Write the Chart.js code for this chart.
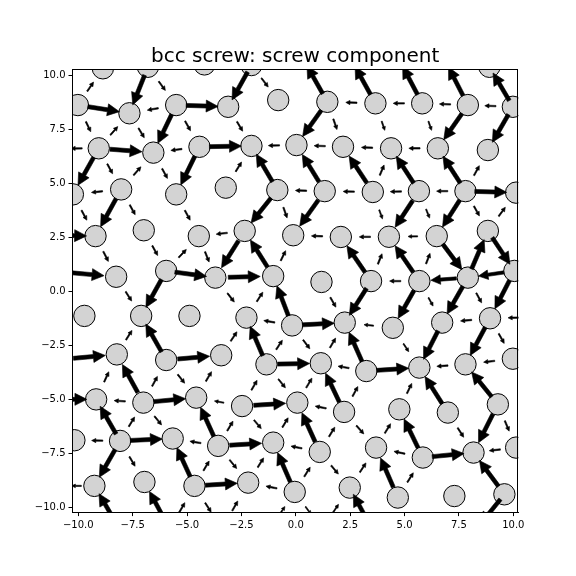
<!DOCTYPE html>
<html><head><meta charset="utf-8">
<script src="https://cdn.jsdelivr.net/npm/chart.js@4/dist/chart.umd.min.js"></script>
<style>html,body{margin:0;padding:0;background:#fff}</style>
</head><body>
<div style="width:576px;height:576px"><canvas id="c" width="576" height="576"></canvas></div>
<script>
// ---- data ----
const chartTitle = 'bcc screw: screw component';
const tickValues = [-10, -7.5, -5, -2.5, 0, 2.5, 5, 7.5, 10];
const xLimits = [-10.29, 10.234];
const yLimits = [-10.236, 10.273];
// lattice column of the first atom of each row (half-spacing units)
const rowK0 = [1, 0, -1, 0, -1, 0, 1, 0, -1, 0, -1, 0];
const atomX = [
  [-8.87, -6.80, -4.20, -2.04, 0.30, 2.50, 4.70, 6.80, 8.90],
  [-10.02, -7.65, -5.50, -3.11, -0.81, 1.45, 3.66, 5.81, 7.91, 9.98],
  [-11.1, -9.06, -6.55, -4.43, -2.04, 0.03, 2.17, 4.38, 6.53, 8.83, 11.0],
  [-10.25, -8.03, -5.50, -3.22, -0.85, 1.33, 3.54, 5.66, 7.80, 10.13],
  [-11.5, -9.21, -6.99, -4.46, -2.35, -0.12, 2.07, 4.28, 6.48, 8.83, 11.0],
  [-10.84, -8.26, -5.96, -3.70, -1.04, 1.18, 3.46, 5.68, 7.91, 10.05],
  [-9.72, -7.11, -4.89, -2.27, -0.17, 2.25, 4.46, 6.73, 8.93, 11.1],
  [-10.75, -8.23, -5.96, -3.43, -1.35, 1.15, 3.24, 5.68, 7.80, 9.98],
  [-11.5, -9.18, -7.01, -4.58, -2.47, 0.07, 2.22, 4.76, 6.99, 9.29],
  [-10.18, -8.08, -5.66, -3.57, -1.04, 1.10, 3.69, 5.84, 8.17, 10.13],
  [-10.9, -9.26, -6.96, -4.66, -2.19, -0.05, 2.48, 4.69, 7.29, 9.59],
  [-10.4, -8.1, -5.8, -3.4, -1.2, 1.2, 3.5, 5.9, 8.3, 10.4]
];
const atomY = [
  [10.31, 10.38, 10.49, 10.46, 10.8, 10.8, 10.8, 10.8, 10.38],
  [8.61, 8.23, 8.61, 8.53, 8.84, 8.76, 8.69, 8.69, 8.61, 8.53],
  [6.6, 6.61, 6.41, 6.68, 6.72, 6.76, 6.68, 6.61, 6.61, 6.53, 6.5],
  [4.48, 4.71, 4.48, 4.79, 4.68, 4.63, 4.59, 4.63, 4.63, 4.56],
  [2.6, 2.55, 2.82, 2.55, 2.79, 2.59, 2.51, 2.52, 2.55, 2.79, 2.6],
  [0.9, 0.67, 0.94, 0.63, 0.70, 0.43, 0.47, 0.47, 0.63, 0.94],
  [-1.14, -1.14, -1.14, -1.22, -1.58, -1.45, -1.69, -1.45, -1.25, -1.2],
  [-3.15, -2.92, -3.18, -2.96, -3.38, -3.33, -3.69, -3.53, -3.38, -3.12],
  [-5.0, -5.00, -5.15, -4.92, -5.31, -5.15, -5.58, -5.46, -5.61, -5.23],
  [-6.89, -6.92, -6.81, -7.15, -7.00, -7.43, -7.23, -7.69, -7.46, -7.23],
  [-9.0, -9.00, -8.82, -9.00, -8.85, -9.28, -9.08, -9.54, -9.47, -9.39],
  [-11, -11, -11, -11, -11, -11, -11, -11, -11, -11]
];
// screw-component differential displacement with east / lower-left / lower-right neighbour
// (fraction of b/3, positive = arrow points from the atom to that neighbour)
const ddE = [
  [0, 0, 0, 0, 0, 0, 0, 0, 0],
  [1, -0.35, 1, 0, 0, -0.35, -0.35, -0.35, -0.35, 0],
  [-0.35, 1, -0.35, 1, -0.35, -0.35, -0.35, -0.35, 0, 0, 0],
  [-0.35, 0, 0, 0, -0.35, -0.35, -0.35, -0.35, 1, 0],
  [1, 0, 0, -0.35, 0, -0.35, -0.35, -0.3, 0, 0, 0],
  [1, 0, 1, 1, 0, 0, -0.35, -0.8, -0.8, 0],
  [0, 0, 0, -0.35, 1, -0.3, 0, -0.35, -0.35, 0],
  [1, 0, 1, 0, 1, -0.35, 1, -0.35, -0.35, 0],
  [1, -0.35, 1, -0.3, 1, -0.35, 0, 0, 0, 0],
  [-0.35, 1, -0.35, 1, -0.35, 0, -0.35, 1, -0.35, 0],
  [-0.3, 0, 0, 1, -0.35, 0, 0, 0, 0, 0],
  [0, 0, 0, 0, 0, 0, 0, 0, 0, 0]
];
const ddSW = [
  [-0.35, 1, 0, 1, 0, 0, 0, 0, 0],
  [0, -0.35, 1, 0, 0, 1, 0, 0, 1, 1],
  [0, 1, -0.35, 1, -0.35, 0, 0, -0.35, 0, -0.35, 0],
  [0, 1, 0, 0, 1, 1, 0, 1, 1, -0.35],
  [0, 0, 0, -0.35, 1, -0.35, 0, -0.35, -0.35, -1, 0],
  [0, 0, 1, 0, -0.35, 0, 1, 1, 1, 1],
  [0, -0.35, 0, -0.35, -0.35, -0.35, 0, 1, 1, 0],
  [0, -0.35, -0.35, -0.35, -0.35, -0.35, -0.35, -0.35, 0, 0],
  [0, 0, -0.35, 0, -0.35, -0.35, -0.35, -0.35, 0, 1],
  [0, 1, 0, -0.35, -0.35, -0.35, -0.35, -0.35, 0, 0],
  [0, 0, 0, -0.35, -0.35, -0.3, -0.3, 0, 0, 1],
  [0, 0, 0, 0, 0, 0, 0, 0, 0, 0]
];
const ddSE = [
  [0, 0.35, 0, 0.35, -1, -1, -1, -1, -1],
  [0.35, 0.35, 0.35, 0.35, 0, 0.35, 0.3, 0.3, 0, 0],
  [0, 0.35, 0.35, 0, -1, -1, -1, -1, -1, 0, 0],
  [0.35, 0.35, 0.35, 0, 0.35, 0, 0.3, 0.3, 0.35, 0],
  [0, 0.35, 0.35, 0.35, -1, 0, -1, -1, 1, 1, 0],
  [0, 0.35, 0, 0.35, -1, 0.35, 0, 0.3, 0.35, 0],
  [0, -1, 0, -1, 0.35, -1, 0.3, 0, 0.35, 0],
  [0, -1, 0.35, 0, 0.35, -1, 0, -1, -1, 0],
  [0, -1, 0.35, -1, 0.35, -1, 0.35, -1, 0.35, 0.35],
  [0, 0.35, -1, 0.35, -1, 0.35, -1, 0, -1, 0],
  [0, -1, -1, 0.35, 0, 0.3, -1, 0, 0, 0],
  [0, 0, 0, 0, 0, 0, 0, 0, 0, 0]
];

// ---- build points and neighbour arrows ----
const atoms = [];
const lookup = {};
atomX.forEach((row, r) => row.forEach((x, i) => {
  const a = { x: x, y: atomY[r][i] };
  atoms.push(a);
  lookup[r + ',' + (rowK0[r] + 2 * i)] = a;
}));
const arrows = [];
function addArrow(a, b, m) { if (a && b && m) arrows.push({ a, b, m }); }
atomX.forEach((row, r) => row.forEach((x, i) => {
  const k = rowK0[r] + 2 * i;
  const a = lookup[r + ',' + k];
  addArrow(a, lookup[r + ',' + (k + 2)], ddE[r][i]);
  addArrow(a, lookup[(r + 1) + ',' + (k - 1)], ddSW[r][i]);
  addArrow(a, lookup[(r + 1) + ',' + (k + 1)], ddSE[r][i]);
}));

// ---- styles ----
const FULL_LEN = 32;     // px, arrow length for |dd| = 1
const SHAFT_W = 4;       // px at |dd| = 1
const HEAD_W = 12;
const HEAD_L = 12;

const arrowPlugin = {
  id: 'ddArrows',
  afterDatasetsDraw(chart) {
    const { ctx, chartArea: ca, scales: { x, y } } = chart;
    ctx.save();
    ctx.beginPath();
    ctx.rect(ca.left, ca.top, ca.right - ca.left, ca.bottom - ca.top);
    ctx.clip();
    ctx.fillStyle = '#000';
    ctx.strokeStyle = '#000';
    ctx.lineWidth = 0.6;
    ctx.lineJoin = 'miter';
    arrows.forEach(({ a, b, m }) => {
      const ax = x.getPixelForValue(a.x), ay = y.getPixelForValue(a.y);
      const bx = x.getPixelForValue(b.x), by = y.getPixelForValue(b.y);
      const mx = (ax + bx) / 2, my = (ay + by) / 2;
      let ux = bx - ax, uy = by - ay;
      const d = Math.hypot(ux, uy);
      const s = Math.sign(m), am = Math.abs(m);
      ux = ux / d * s; uy = uy / d * s;
      const nx = -uy, ny = ux;
      const L = am * FULL_LEN, hw = am * SHAFT_W / 2, hh = am * HEAD_W / 2, hl = am * HEAD_L;
      const tx = mx - ux * L / 2, ty = my - uy * L / 2;
      const hx = mx + ux * L / 2, hy = my + uy * L / 2;
      const bx2 = hx - ux * hl, by2 = hy - uy * hl;
      ctx.beginPath();
      ctx.moveTo(tx + nx * hw, ty + ny * hw);
      ctx.lineTo(bx2 + nx * hw, by2 + ny * hw);
      ctx.lineTo(bx2 + nx * hh, by2 + ny * hh);
      ctx.lineTo(hx, hy);
      ctx.lineTo(bx2 - nx * hh, by2 - ny * hh);
      ctx.lineTo(bx2 - nx * hw, by2 - ny * hw);
      ctx.lineTo(tx - nx * hw, ty - ny * hw);
      ctx.closePath();
      ctx.fill();
      ctx.stroke();
    });
    ctx.restore();
  }
};
const framePlugin = {
  id: 'frame',
  afterDraw(chart) {
    const { ctx, chartArea: ca } = chart;
    ctx.save();
    ctx.strokeStyle = '#000';
    ctx.lineWidth = 1;
    ctx.strokeRect(Math.round(ca.left) + 0.5, Math.round(ca.top) + 0.5,
      Math.round(ca.right - ca.left) - 1, Math.round(ca.bottom - ca.top) - 1);
    ctx.restore();
  }
};
const fmt = v => (Math.round(v * 10) / 10).toFixed(1).replace('-', '\u2212');
function axis(limits, fitFn) {
  return {
    type: 'linear', min: limits[0], max: limits[1],
    afterBuildTicks: s => { s.ticks = tickValues.map(v => ({ value: v })); },
    afterFit: fitFn,
    ticks: { callback: fmt, font: { family: 'DejaVu Sans', size: 10 }, color: '#000', padding: 3, maxRotation: 0, autoSkip: false },
    grid: { display: true, drawOnChartArea: false, drawTicks: true, tickLength: 3.5, color: '#000', lineWidth: 1 },
    border: { display: true, color: '#000', width: 1 }
  };
}
new Chart(document.getElementById('c'), {
  type: 'scatter',
  data: { datasets: [{ data: atoms, pointRadius: 10.7, pointHoverRadius: 10.7, backgroundColor: '#d3d3d3',
    borderColor: '#000', borderWidth: 1, clip: 0 }] },
  options: {
    responsive: false, animation: false, devicePixelRatio: 1,
    layout: { padding: { left: 0, right: 57.6, top: 0, bottom: 0 } },
    plugins: {
      legend: { display: false }, tooltip: { enabled: false },
      title: { display: true, text: chartTitle, fullSize: false, color: '#000',
        font: { family: 'DejaVu Sans', size: 20, weight: 'normal', lineHeight: 1.2 },
        padding: { top: 44.5, bottom: 0.6 } }
    },
    scales: {
      x: axis(xLimits, s => { s.height = 63.4; }),
      y: axis(yLimits, s => { s.width = 72; })
    }
  },
  plugins: [arrowPlugin, framePlugin]
});
</script>
</body></html>
